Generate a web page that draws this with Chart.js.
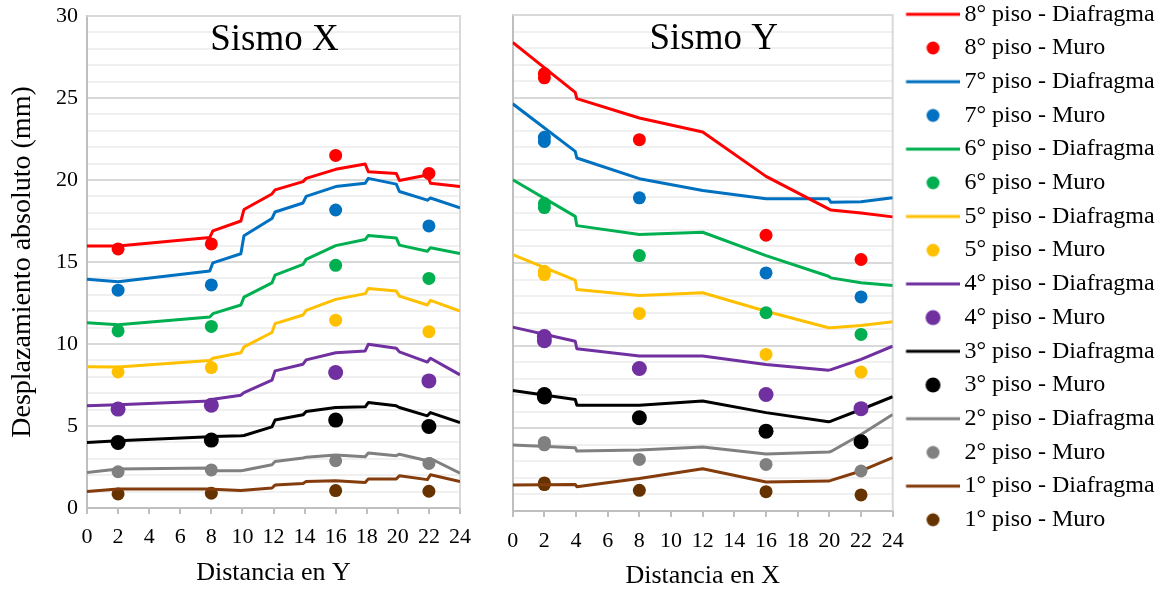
<!DOCTYPE html>
<html><head><meta charset="utf-8">
<script src="https://cdn.jsdelivr.net/npm/chart.js@4.4.1/dist/chart.umd.min.js"></script>
<style>
html,body{margin:0;padding:0;background:#fff;}
#wrap{position:relative;width:1164px;height:592px;overflow:hidden;background:#fff;}
canvas{position:absolute;top:0;}
#cL{left:0;}
#cR{left:480px;}
</style></head><body>
<div id="wrap"><canvas id="cL" width="490" height="592"></canvas><canvas id="cR" width="684" height="592"></canvas></div>
<script>
// ---------- data ----------
const floors = ['8°','7°','6°','5°','4°','3°','2°','1°'];
const lineColors = ['#FF0000','#0070C0','#00B050','#FFC000','#7030A0','#000000','#808080','#843C0C'];
const markerColors = ['#FF0000','#0070C0','#00B050','#FFC000','#7030A0','#000000','#808080','#663300'];
const markerRadius = [6.5,6.5,6.5,6.5,7.5,7.5,6.5,6.5];
const xTickLabels = [0,2,4,6,8,10,12,14,16,18,20,22,24];
const yTickLabels = [0,5,10,15,20,25,30];

// Sismo X (left) – diaphragm lines
const sxLineX = [0,2,7.9,8.1,9.9,10.1,11.9,12.1,13.9,14.1,16,17.9,18.1,19.9,20.1,21.9,22.1,24];
const sxDiaf8 = [15.98,15.98,16.5,16.9,17.5,18.2,19.15,19.4,19.9,20.1,20.65,20.98,20.5,20.4,19.97,20.3,19.8,19.6];
const sxDiaf7 = [13.95,13.8,14.45,14.95,15.5,16.6,17.65,18.05,18.6,19.0,19.6,19.8,20.1,19.75,19.3,18.77,18.9,18.3];
const sxDiaf6 = [11.3,11.17,11.65,11.85,12.38,12.86,13.73,14.2,14.85,15.16,16.0,16.37,16.62,16.47,16.03,15.66,15.87,15.52];
const sxDiaf5 = [8.62,8.6,9.0,9.13,9.47,9.82,10.7,11.24,11.77,12.05,12.72,13.07,13.39,13.23,12.92,12.38,12.66,12.0];
const sxDiaf4 = [6.23,6.29,6.53,6.63,6.88,7.04,7.79,8.36,8.77,9.03,9.47,9.58,9.98,9.74,9.52,8.9,9.13,8.12];
const sxDiaf3 = [4.0,4.1,4.34,4.36,4.4,4.42,4.95,5.36,5.68,5.88,6.13,6.17,6.43,6.23,6.13,5.62,5.82,5.21];
const sxDiaf2 = [2.17,2.38,2.44,2.27,2.27,2.3,2.64,2.84,3.05,3.1,3.23,3.13,3.35,3.19,3.28,2.88,3.02,2.13];
const sxDiaf1 = [1.0,1.16,1.16,1.15,1.06,1.08,1.22,1.4,1.5,1.62,1.66,1.56,1.77,1.77,1.97,1.73,2.03,1.62];
// Sismo X (left) – wall points
const sxMuroX = [2,8,16,22];
const sxMuro8 = [15.8,16.1,21.5,20.4];
const sxMuro7 = [13.28,13.6,18.17,17.2];
const sxMuro6 = [10.8,11.07,14.8,14.0];
const sxMuro5 = [8.3,8.56,11.45,10.75];
const sxMuro4 = [6.03,6.27,8.26,7.75];
const sxMuro3 = [4.0,4.14,5.36,4.97];
const sxMuro2 = [2.21,2.32,2.88,2.72];
const sxMuro1 = [0.86,0.9,1.06,1.02];

// Sismo Y (right) – diaphragm lines
const syLineX = [0,3.95,4.05,8,12,16,19.95,20.1,22,24];
const syDiaf8 = [28.34,25.32,24.94,23.77,22.92,20.24,18.27,18.2,18.03,17.79];
const syDiaf7 = [24.63,21.75,21.35,20.1,19.38,18.88,18.88,18.67,18.7,18.94];
const syDiaf6 = [20.04,17.82,17.26,16.72,16.86,15.45,14.2,14.1,13.8,13.64];
const syDiaf5 = [15.51,13.96,13.4,13.03,13.2,12.08,11.08,11.08,11.22,11.44];
const syDiaf4 = [11.12,10.27,9.81,9.37,9.37,8.86,8.52,8.55,9.17,9.97];
const syDiaf3 = [7.29,6.75,6.4,6.4,6.65,5.95,5.4,5.43,6.14,6.91];
const syDiaf2 = [3.99,3.83,3.63,3.69,3.87,3.45,3.57,3.6,4.63,5.84];
const syDiaf1 = [1.57,1.61,1.47,1.96,2.56,1.75,1.81,1.85,2.42,3.23];
// Sismo Y (right) – wall points
const syMuroX = [2,2,8,16,22];
const syMuro8 = [26.2,26.45,22.46,16.68,15.21];
const syMuro7 = [22.35,22.6,18.94,14.4,12.95];
const syMuro6 = [18.35,18.6,15.45,11.99,10.68];
const syMuro5 = [14.3,14.5,11.95,9.47,8.4];
const syMuro4 = [10.3,10.55,8.62,7.05,6.19];
const syMuro3 = [6.9,7.05,5.64,4.83,4.19];
const syMuro2 = [4.0,4.15,3.12,2.82,2.42];
const syMuro1 = [1.6,1.7,1.25,1.17,0.97];

// ---------- build ----------
const FONT = '"Liberation Serif", "Times New Roman", serif';
Chart.defaults.font.family = FONT;
Chart.defaults.color = '#000';

function buildDatasets(lineX, diaf, muroX, muro) {
  const ds = [];
  floors.forEach((f, i) => {
    ds.push({
      label: f + ' piso - Diafragma', kind: 'line', idx: i,
      data: lineX.map((x, j) => ({x: x, y: diaf[i][j]})),
      showLine: true, borderColor: lineColors[i], backgroundColor: lineColors[i],
      borderWidth: 3, pointRadius: 0, pointHoverRadius: 0, tension: 0,
      borderJoinStyle: 'round', borderCapStyle: 'butt'
    });
    ds.push({
      label: f + ' piso - Muro', kind: 'dot', idx: i,
      data: muroX.map((x, j) => ({x: x, y: muro[i][j]})),
      showLine: false, pointRadius: markerRadius[i], pointHoverRadius: markerRadius[i],
      pointBackgroundColor: markerColors[i], pointBorderWidth: 0,
      borderColor: markerColors[i], backgroundColor: markerColors[i]
    });
  });
  return ds;
}

const imgCache = {};
function legendImage(kind, i) {
  const key = kind + i;
  if (imgCache[key]) return imgCache[key];
  const c = document.createElement('canvas');
  c.width = 66; c.height = 18;
  const g = c.getContext('2d');
  if (kind === 'line') {
    g.strokeStyle = lineColors[i]; g.lineWidth = 3;
    g.beginPath(); g.moveTo(11.6, 9); g.lineTo(66, 9); g.stroke();
  } else {
    g.fillStyle = markerColors[i];
    g.beginPath(); g.arc(38.6, 9, markerRadius[i], 0, Math.PI * 2); g.fill();
  }
  imgCache[key] = c;
  return c;
}

const innerTitle = {
  id: 'innerTitle',
  afterDatasetsDraw(chart, args, opts) {
    const a = chart.chartArea, ctx = chart.ctx;
    ctx.save();
    ctx.font = '37px ' + FONT;
    ctx.fillStyle = '#000';
    ctx.textAlign = 'center';
    ctx.textBaseline = 'middle';
    ctx.fillText(opts.text, (a.left + a.right) / 2 + opts.dx, a.top + 24);
    ctx.restore();
  }
};
const frame = {
  id: 'frame',
  beforeDatasetsDraw(chart) {
    const a = chart.chartArea, ctx = chart.ctx;
    ctx.save();
    ctx.strokeStyle = '#d9d9d9'; ctx.lineWidth = 2;
    ctx.beginPath();
    ctx.moveTo(a.left, a.top); ctx.lineTo(a.right, a.top); ctx.lineTo(a.right, a.bottom);
    ctx.stroke();
    ctx.restore();
  }
};

function yScale(showLabels, width) {
  return {
    type: 'linear', position: 'left', min: 0, max: 30,
    afterFit(s) { s.width = width; },
    ticks: {
      display: showLabels, stepSize: 1, autoSkip: false, padding: 9,
      font: {size: 22, lineHeight: 0.5},
      callback: v => yTickLabels.includes(v) ? String(v) : ''
    },
    grid: {
      drawTicks: false, lineWidth: 2,
      color: c => (c.tick && c.tick.value % 5 === 0) ? '#d9d9d9' : '#f0f0f0'
    },
    border: {display: true, color: '#bfbfbf', width: 2},
    title: showLabels ? {display: true, text: 'Desplazamiento absoluto (mm)', font: {size: 28}, padding: {top: 6.2, bottom: 0}} : {display: false}
  };
}
function xScale(title, height, pad, titlePad) {
  return {
    type: 'linear', position: 'bottom', min: 0, max: 24,
    afterFit(s) { s.height = height; },
    ticks: {
      stepSize: 2, autoSkip: false, maxRotation: 0, padding: pad, font: {size: 22},
      callback: v => xTickLabels.includes(v) ? String(v) : ''
    },
    grid: {display: true, drawOnChartArea: false, drawTicks: true, tickLength: 6, color: '#bfbfbf', lineWidth: 2},
    border: {display: true, color: '#bfbfbf', width: 2},
    title: {display: true, text: title, font: {size: 26}, padding: {top: 0, bottom: titlePad}}
  };
}

new Chart(document.getElementById('cL'), {
  type: 'scatter',
  data: {datasets: buildDatasets(sxLineX,
    [sxDiaf8, sxDiaf7, sxDiaf6, sxDiaf5, sxDiaf4, sxDiaf3, sxDiaf2, sxDiaf1], sxMuroX,
    [sxMuro8, sxMuro7, sxMuro6, sxMuro5, sxMuro4, sxMuro3, sxMuro2, sxMuro1])},
  options: {
    responsive: false, animation: false, events: [],
    layout: {padding: {left: 0, top: 16, right: 30, bottom: 0}},
    scales: {x: xScale('Distancia en Y', 84, 9.6, 3.4), y: yScale(true, 87)},
    plugins: {legend: {display: false}, tooltip: {enabled: false}, innerTitle: {text: 'Sismo X', dx: 1}}
  },
  plugins: [frame, innerTitle]
});

// legend width -> right padding so the plot area ends at the intended place
const rightDatasets = buildDatasets(syLineX,
    [syDiaf8, syDiaf7, syDiaf6, syDiaf5, syDiaf4, syDiaf3, syDiaf2, syDiaf1], syMuroX,
    [syMuro8, syMuro7, syMuro6, syMuro5, syMuro4, syMuro3, syMuro2, syMuro1]);
const mctx = document.createElement('canvas').getContext('2d');
mctx.font = 'normal 24px ' + FONT;
const maxLabelW = Math.max(...rightDatasets.map(d => mctx.measureText(d.label).width));
const LEG_PAD = 9.7, LEG_BOX = 50;
const legendW = Math.ceil(LEG_PAD + LEG_BOX + 12 + maxLabelW) + 1;
const padRight = Math.max(0, 684 - 412.7 - legendW);

new Chart(document.getElementById('cR'), {
  type: 'scatter',
  data: {datasets: rightDatasets},
  options: {
    responsive: false, animation: false, events: [],
    layout: {padding: {left: 0, top: -7.4, right: padRight, bottom: 0}},
    scales: {
      x: xScale('Distancia en X', 81, 11.5, 0),
      y: yScale(false, 32.7),
      xTop: {
        type: 'linear', position: 'top', min: 0, max: 1, display: true,
        afterFit(s) { s.height = 22.4; },
        ticks: {display: false}, grid: {display: false}, border: {display: false}, title: {display: false}
      }
    },
    plugins: {
      tooltip: {enabled: false},
      innerTitle: {text: 'Sismo Y', dx: 11},
      legend: {
        display: true, position: 'right', align: 'start', maxWidth: legendW,
        labels: {
          usePointStyle: true, pointStyleWidth: LEG_BOX, padding: LEG_PAD,
          font: {size: 24}, color: '#000',
          generateLabels(chart) {
            const items = Chart.defaults.plugins.legend.labels.generateLabels(chart);
            items.forEach(it => {
              const d = chart.data.datasets[it.datasetIndex];
              it.pointStyle = legendImage(d.kind, d.idx);
            });
            return items;
          }
        }
      }
    }
  },
  plugins: [frame, innerTitle]
});
</script>
</body></html>
